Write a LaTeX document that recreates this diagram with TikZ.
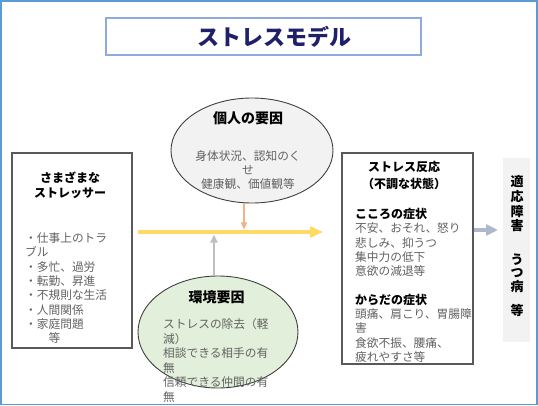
\documentclass[tikz,border=0pt]{standalone}
\usepackage{fontspec}
\setmainfont{Noto Sans CJK JP}
\usetikzlibrary{arrows.meta,shapes.geometric}
\definecolor{frameblue}{HTML}{5B9BD5}
\definecolor{titleborder}{HTML}{8FAADC}
\definecolor{titlenavy}{HTML}{1F1F6B}
\definecolor{boxgray}{HTML}{595959}
\definecolor{ellborder}{HTML}{404040}
\definecolor{ellgray}{HTML}{F2F2F2}
\definecolor{ellgreen}{HTML}{E2EFDA}
\definecolor{bodygray}{HTML}{626262}
\definecolor{yellowarrow}{HTML}{FFD966}
\definecolor{salmonarrow}{HTML}{F4B183}
\definecolor{grayarrow}{HTML}{BFBFBF}
\definecolor{bluearrow}{HTML}{ADB9CA}
\definecolor{resultfill}{HTML}{F2F2F2}
\begin{document}
\begin{tikzpicture}[x=1pt,y=-1pt,
  body/.style={inner sep=0pt, font=\fontsize{11.7}{14}\selectfont, text=bodygray},
  head/.style={inner sep=0pt, font=\fontsize{12}{14}\selectfont\bfseries, text=black},
  ellhead/.style={inner sep=0pt, font=\fontsize{14}{16}\selectfont\bfseries, text=black},
  vert/.style={inner sep=0pt, font=\fontsize{13}{15}\selectfont\bfseries, text=black, anchor=base},
  stbox/.style={draw=boxgray, line width=1.2pt, fill=white, rectangle, inner sep=0pt},
  ellbox/.style={draw=ellborder, line width=0.9pt, ellipse, inner sep=0pt},
  yarrow/.style={draw=yellowarrow, line width=3pt, -{Triangle[length=13pt,width=11pt]}},
  sarrow/.style={draw=salmonarrow, line width=1.5pt, -{Triangle[length=7pt,width=6pt]}},
  garrow/.style={draw=grayarrow, line width=2pt, -{Triangle[length=8pt,width=7pt]}},
  barrow/.style={draw=bluearrow, line width=3.5pt, -{Triangle[length=12pt,width=11pt]}}]
\useasboundingbox (0,0) rectangle (538,406);
% outer frame
\node[draw=frameblue, line width=1.5pt, rectangle, inner sep=0pt, minimum width=536pt, minimum height=403.5pt] (frame) at (269,202.75) {};
% title
\node[draw=titleborder, line width=1.2pt, rectangle, inner sep=0pt, minimum width=315pt, minimum height=37pt] (titlebox) at (263.5,36.5) {};
\node[inner sep=0pt, anchor=base, font=\fontsize{22}{24}\selectfont\bfseries, text=titlenavy] (title) at (274.5,45.9) {ストレスモデル};
% boxes
\node[stbox, minimum width=120pt, minimum height=195pt] (lb) at (72,250.5) {};
\node[stbox, minimum width=131pt, minimum height=211pt] (rb) at (407.5,258.5) {};
\node[fill=resultfill, rectangle, inner sep=0pt, minimum width=27pt, minimum height=184pt] (res) at (516.5,250) {};
% ellipses
\node[ellbox, fill=ellgray, minimum width=162pt, minimum height=105pt] (top) at (252,150.5) {};
\node[ellbox, fill=ellgreen, minimum width=160pt, minimum height=112pt] (bot) at (218,332) {};
% arrows
\coordinate (ys) at (138,232);
\coordinate (ye) at (323,232);
\draw[yarrow] (ys) -- (ye);
\coordinate (sa) at (244,229.5);
\draw[sarrow] (top.south -| sa) -- (sa);
\coordinate (ga) at (214,234.5);
\draw[garrow] (bot.north -| ga) -- (ga);
\coordinate (ba) at (498,230);
\draw[barrow] (rb.east |- ba) -- (ba);
% left box text
\node[head, anchor=base] (lh1) at (70,182.6) {さまざまな};
\node[head, anchor=base] (lh2) at (70,197.6) {ストレッサー};
\foreach \t [count=\i from 0] in {・仕事上のトラ, ブル, ・多忙、過労, ・転勤、昇進, ・不規則な生活, ・人間関係, ・家庭問題, 　　等}
  \node[body, anchor=base west] (ls\i) at (25,{242.5+14.3*\i}) {\t};
% top ellipse text
\node[ellhead, anchor=base] (th) at (248,123.3) {個人の要因};
\foreach \t [count=\i from 0] in {身体状況、認知のく, せ, 健康観、価値観等}
  \node[body, anchor=base] (tl\i) at (248,{160.5+14*\i}) {\t};
% bottom ellipse text
\node[ellhead, anchor=base] (bh) at (216.5,302.3) {環境要因};
\foreach \t [count=\i from 0] in {ストレスの除去（軽, 減）, 相談できる相手の有, 無, 信頼できる仲間の有, 無}
  \node[body, anchor=base west] (bl\i) at (163,{328.5+14.5*\i}) {\t};
% right box text
\node[head, anchor=base] (rh1) at (404,171.6) {ストレス反応};
\node[head, anchor=base] (rh2) at (404,188.6) {（不調な状態）};
\node[head, anchor=base west] (rs1) at (355,218.5) {こころの症状};
\foreach \t [count=\i from 1] in {不安、おそれ、怒り, 悲しみ、抑うつ, 集中力の低下, 意欲の減退等}
  \node[body, anchor=base west] (ra\i) at (355,{218.5+14.3*\i}) {\t};
\node[head, anchor=base west] (rs2) at (355,304.3) {からだの症状};
\foreach \t [count=\i from 1] in {頭痛、肩こり、胃腸障, 害, 食欲不振、腰痛、, 疲れやすさ等}
  \node[body, anchor=base west] (rc\i) at (355,{304.3+14.3*\i}) {\t};
% vertical result text
\node[vert] (v1) at (517,186.9) {適};
\node[vert] (v2) at (517,201.9) {応};
\node[vert] (v3) at (517,216.9) {障};
\node[vert] (v4) at (517,230.9) {害};
\node[vert] (v5) at (517,264.9) {う};
\node[vert] (v6) at (517,277.9) {つ};
\node[vert] (v7) at (517,291.9) {病};
\node[vert] (v8) at (517,315.9) {等};
\end{tikzpicture}
\end{document}
